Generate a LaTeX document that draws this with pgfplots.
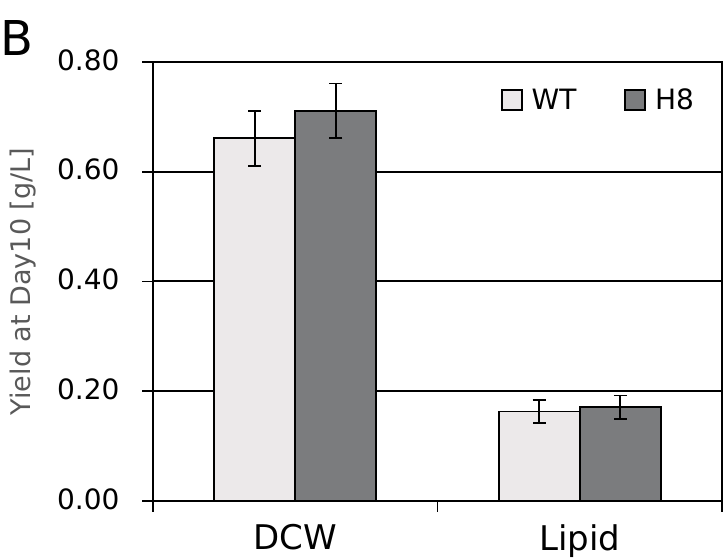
\documentclass[border=0pt]{standalone}
\usepackage{fontspec}
\setmainfont{DejaVu Sans}
\usepackage{pgfplots}
\pgfplotsset{compat=1.18}
\definecolor{wtfill}{HTML}{ECE9EA}
\definecolor{hfill}{HTML}{7B7C7E}
\definecolor{labgray}{HTML}{595959}
\begin{document}
\begin{tikzpicture}
\begin{axis}[
  name=ax,
  scale only axis, width=569pt, height=439pt,
  xmin=0, xmax=2, ymin=0, ymax=0.8,
  axis line style={line width=1.8pt},
  ybar=0pt, bar width=0.285,
  xtick={0.5,1.5}, xticklabels={DCW,Lipid},
  minor xtick={0,1,2},
  ytick={0,0.2,0.4,0.6,0.8},
  tick align=outside, tick pos=left,
  major tick length=11pt, minor tick length=11pt,
  every tick/.style={black, line width=1.8pt},
  every major x tick/.append style={draw=none},
  ymajorgrids, major grid style={black, line width=2pt},
  yticklabel style={font=\fontsize{28}{34}\selectfont, xshift=-19pt, yshift=2pt,
    /pgf/number format/.cd, fixed, fixed zerofill, precision=2, assume math mode=true},
  xticklabel style={font=\fontsize{34}{40}\selectfont, yshift=-9pt},
  ylabel={Yield at Day10 [g/L]},
  ylabel style={font=\fontsize{27}{32}\selectfont, text=labgray, yshift=14pt},
  legend columns=2,
  legend style={draw=none, fill=none, font=\fontsize{28}{34}\selectfont,
    at={(0.606,0.913)}, anchor=west,
    /tikz/every even column/.append style={column sep=46pt}},
  legend image code/.code={\draw[draw=black, line width=1.5pt, #1] (0pt,-10pt) rectangle (20pt,10pt);
    \path (27pt,0pt);},
]
\addplot[fill=wtfill, draw=black, line width=1.7pt,
  error bars/.cd, y dir=both, y explicit,
  error bar style={line width=1.7pt},
  error mark options={rotate=90, line width=1.7pt, mark size=6.5pt}]
  coordinates {(0.5,0.661) +- (0,0.050) (1.5,0.163) +- (0,0.021)};
\addlegendentry{WT}
\addplot[fill=hfill, draw=black, line width=1.7pt,
  error bars/.cd, y dir=both, y explicit,
  error bar style={line width=1.7pt},
  error mark options={rotate=90, line width=1.7pt, mark size=6.5pt}]
  coordinates {(0.5,0.711) +- (0,0.050) (1.5,0.171) +- (0,0.021)};
\addlegendentry{H8}
\end{axis}
\node[anchor=base west, inner sep=0pt, font=\fontsize{48}{54}\selectfont]
  at ([shift={(-153pt,6pt)}]ax.north west) {B};
\pgfresetboundingbox
\path ([shift={(-153pt,-59pt)}]ax.south west) rectangle ([shift={(4pt,62pt)}]ax.north east);
\end{tikzpicture}
\end{document}
